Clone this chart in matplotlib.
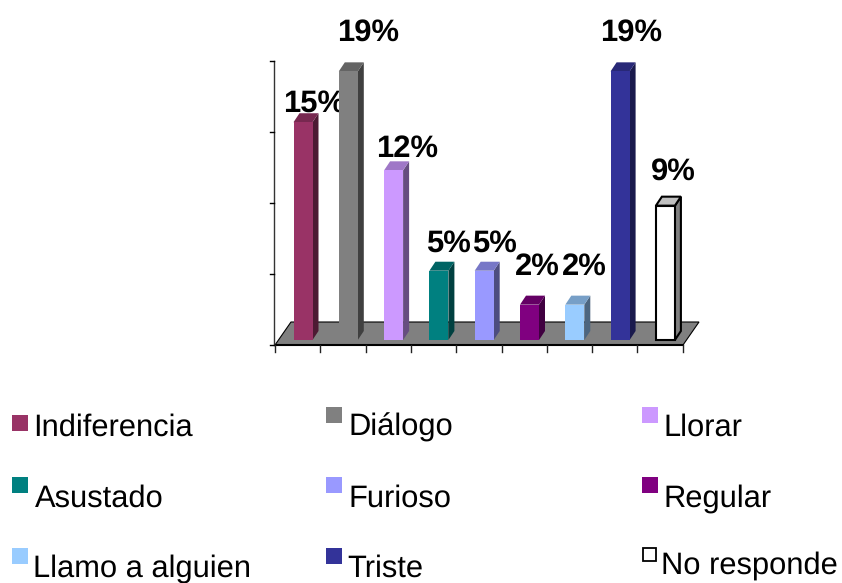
import matplotlib
matplotlib.use('Agg')
import matplotlib.pyplot as plt
from matplotlib.patches import Polygon, Rectangle

plt.rcParams['font.family'] = ['Liberation Sans', 'DejaVu Sans']
plt.rcParams['text.hinting'] = 'none'

# data
categories = ['Indiferencia', 'Diálogo', 'Llorar', 'Asustado', 'Furioso',
              'Regular', 'Llamo a alguien', 'Triste', 'No responde']
values = [15.4, 19, 12, 4.9, 4.9, 2.5, 2.5, 19, 9.5]
value_labels = ['15%', '19%', '12%', '5%', '5%', '2%', '2%', '19%', '9%']
colors = ['#993366', '#808080', '#CC99FF', '#008080', '#9999FF',
          '#800080', '#99CCFF', '#333399', '#FFFFFF']
y_ticks = [0, 5, 10, 15, 20]

W, H = 842, 583
PX_PER_CAT = 45.3
PX_PER_VAL = 14.14
X0, Y0 = 303, 340  # pixel of the first bar centre and of the bar base
DX, DY = 6, 9      # 3d depth of a bar in pixels


def shade(color, f):
    r, g, b = matplotlib.colors.to_rgb(color)
    return (r * f, g * f, b * f)


fig = plt.figure(figsize=(W / 100, H / 100), dpi=100)

# background layer in pixel coordinates: floor, axis, labels, legend
bg = fig.add_axes([0, 0, 1, 1], zorder=0)
bg.set_xlim(0, W)
bg.set_ylim(H, 0)
bg.axis('off')

bg.add_patch(Polygon([(275, 345), (683, 345), (699, 322), (291, 322)],
                     facecolor='#808080', edgecolor='black', linewidth=0.8))
bg.plot([275, 683], [345, 345], color='black', linewidth=1.5)
bg.plot([274, 274], [61, 345], color='#333333', linewidth=1)
for v in y_ticks:
    y = 345 - v * 14.2
    bg.plot([270, 274], [y, y], color='black', linewidth=1)
for i in range(len(categories) + 1):
    x = 275 + i * PX_PER_CAT
    bg.plot([x, x], [345, 352], color='#222222', linewidth=1)

label_x = [314, 368, 407, 448, 494, 537, 584, 631, 673]
label_y = [112, 41, 157, 252, 252, 275, 275, 41, 180]
for s, x, y in zip(value_labels, label_x, label_y):
    bg.text(x, y, s, ha='center', va='baseline', fontsize=22.3,
            fontweight='bold', color='black')

# legend, placed by hand like the original
swatch_x = [12, 326, 642, 12, 326, 642, 12, 326, 642]
swatch_y = [415, 407, 407, 477, 477, 477, 548, 548, 547]
text_x = [33, 348, 663, 35, 348, 663, 33, 347, 661]
text_y = [436, 436, 436, 507, 507, 507, 577, 577, 574]
for name, color, sx, sy, tx, ty in zip(categories, colors, swatch_x, swatch_y, text_x, text_y):
    if name == 'No responde':
        bg.add_patch(Rectangle((sx + 1, sy + 1), 13, 13, facecolor='white',
                               edgecolor='black', linewidth=1.3))
    else:
        bg.add_patch(Rectangle((sx, sy), 16, 16, facecolor=color, edgecolor='none'))
    bg.text(tx, ty, name, ha='left', va='baseline', fontsize=22.2, color='black')

# bars on top, so the grey one cuts the 15% label
ax = fig.add_axes([0, 0, 1, 1], zorder=1)
ax.patch.set_alpha(0)
ax.axis('off')
ax.set_xlim(-X0 / PX_PER_CAT, (W - X0) / PX_PER_CAT)
ax.set_ylim(-(H - Y0) / PX_PER_VAL, Y0 / PX_PER_VAL)

half = 9.5 / PX_PER_CAT
dx = DX / PX_PER_CAT
dy = DY / PX_PER_VAL
for i, (val, color) in enumerate(zip(values, colors)):
    white = color == '#FFFFFF'
    edge = 'black' if white else 'none'
    lw = 1.5 if white else 0
    top_c = '#C0C0C0' if white else shade(color, 0.78)
    side_c = '#808080' if white else shade(color, 0.5)
    ax.add_patch(Polygon([(i + half, 0), (i + half + dx, dy), (i + half + dx, val + dy), (i + half, val)],
                         facecolor=side_c, edgecolor=edge, linewidth=lw))
    ax.add_patch(Polygon([(i - half, val), (i + half, val), (i + half + dx, val + dy), (i - half + dx, val + dy)],
                         facecolor=top_c, edgecolor=edge, linewidth=lw))
    ax.bar(i, val, width=2 * half, color=color, edgecolor=edge, linewidth=lw)

fig.savefig('out.png', dpi=100)
